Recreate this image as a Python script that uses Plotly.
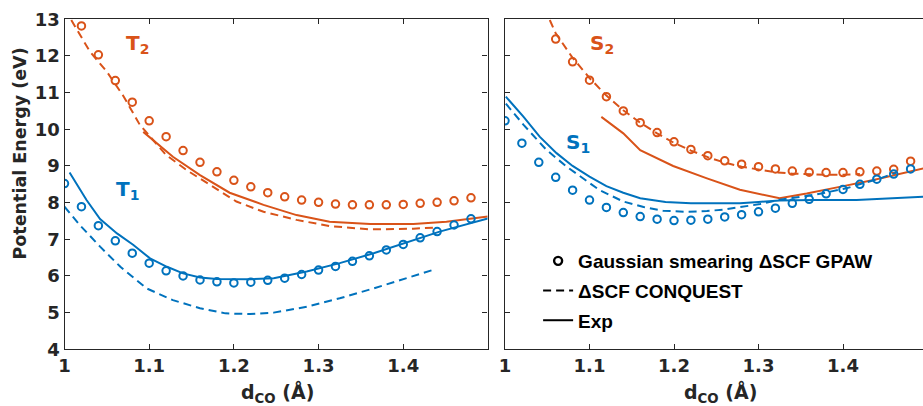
import plotly.graph_objects as go

BLUE = "#0072BD"
ORANGE = "#D95319"
AX = "#262626"
FONT = "DejaVu Sans"
LFONT = "Liberation Sans"

# ---------------- Left panel (triplets) ----------------
x_T1_gpaw = [1.00, 1.02, 1.04, 1.06, 1.08, 1.10, 1.12, 1.14, 1.16, 1.18, 1.20, 1.22, 1.24,
             1.26, 1.28, 1.30, 1.32, 1.34, 1.36, 1.38, 1.40, 1.42, 1.44, 1.46, 1.48]
y_T1_gpaw = [8.52, 7.89, 7.37, 6.96, 6.62, 6.35, 6.14, 6.00, 5.89, 5.84, 5.81, 5.83, 5.88,
             5.94, 6.04, 6.16, 6.26, 6.40, 6.55, 6.71, 6.86, 7.04, 7.21, 7.39, 7.56]

x_T2_gpaw = [1.02, 1.04, 1.06, 1.08, 1.10, 1.12, 1.14, 1.16, 1.18, 1.20, 1.22, 1.24,
             1.26, 1.28, 1.30, 1.32, 1.34, 1.36, 1.38, 1.40, 1.42, 1.44, 1.46, 1.48]
y_T2_gpaw = [12.82, 12.03, 11.33, 10.74, 10.23, 9.80, 9.42, 9.10, 8.84, 8.61, 8.43, 8.27,
             8.16, 8.07, 8.01, 7.96, 7.94, 7.94, 7.94, 7.95, 7.98, 8.01, 8.05, 8.13]

x_T1_exp = [1.006, 1.016, 1.026, 1.042, 1.062, 1.081, 1.101, 1.121, 1.14, 1.16, 1.18, 1.22,
            1.247, 1.286, 1.325, 1.365, 1.404, 1.443, 1.50]
y_T1_exp = [8.82, 8.45, 8.07, 7.55, 7.16, 6.85, 6.48, 6.25, 6.07, 5.96, 5.92, 5.91,
            5.94, 6.12, 6.35, 6.62, 6.91, 7.21, 7.57]

x_T1_cq = [1.00, 1.018, 1.042, 1.066, 1.097, 1.128, 1.16, 1.19, 1.219, 1.247, 1.286,
           1.325, 1.365, 1.404, 1.437]
y_T1_cq = [7.89, 7.39, 6.80, 6.25, 5.66, 5.34, 5.12, 4.98, 4.96, 5.00, 5.16,
           5.39, 5.66, 5.94, 6.18]

x_T2_exp = [1.093, 1.128, 1.16, 1.195, 1.235, 1.274, 1.313, 1.361, 1.412, 1.451, 1.50]
y_T2_exp = [9.93, 9.25, 8.75, 8.27, 7.94, 7.66, 7.48, 7.42, 7.42, 7.48, 7.62]

x_T2_cq = [1.008, 1.03, 1.05, 1.07, 1.089, 1.12, 1.144, 1.176, 1.203, 1.235, 1.274,
           1.313, 1.361, 1.412, 1.437]
y_T2_cq = [12.98, 12.12, 11.57, 10.89, 10.12, 9.30, 8.89, 8.43, 8.03, 7.75, 7.53,
           7.36, 7.27, 7.29, 7.32]

# ---------------- Right panel (singlets) ----------------
x_S1_gpaw = [1.00, 1.02, 1.04, 1.06, 1.08, 1.10, 1.12, 1.14, 1.16, 1.18, 1.20, 1.22, 1.24,
             1.26, 1.28, 1.30, 1.32, 1.34, 1.36, 1.38, 1.40, 1.42, 1.44, 1.46, 1.48]
y_S1_gpaw = [10.23, 9.62, 9.10, 8.69, 8.34, 8.07, 7.87, 7.73, 7.62, 7.55, 7.51, 7.52, 7.55,
             7.61, 7.67, 7.75, 7.85, 7.98, 8.09, 8.24, 8.36, 8.50, 8.64, 8.78, 8.92]

x_S2_gpaw = [1.06, 1.08, 1.10, 1.12, 1.14, 1.16, 1.18, 1.20, 1.22, 1.24, 1.26,
             1.28, 1.30, 1.32, 1.34, 1.36, 1.38, 1.40, 1.42, 1.44, 1.46, 1.48]
y_S2_gpaw = [12.46, 11.84, 11.34, 10.89, 10.50, 10.18, 9.91, 9.66, 9.45, 9.28, 9.14,
             9.05, 8.98, 8.92, 8.86, 8.83, 8.82, 8.82, 8.84, 8.86, 8.91, 9.13]

x_S1_exp = [1.001, 1.022, 1.041, 1.061, 1.08, 1.10, 1.12, 1.14, 1.16, 1.19, 1.22, 1.25,
            1.278, 1.30, 1.325, 1.365, 1.416, 1.495]
y_S1_exp = [10.89, 10.34, 9.80, 9.35, 9.00, 8.71, 8.45, 8.27, 8.12, 8.02, 7.98, 7.97,
            7.98, 8.02, 8.06, 8.07, 8.07, 8.16]

x_S1_cq = [1.001, 1.022, 1.049, 1.073, 1.112, 1.14, 1.164, 1.187, 1.215, 1.239, 1.258,
           1.282, 1.302, 1.325, 1.365, 1.385, 1.404, 1.424, 1.444, 1.463]
y_S1_cq = [10.70, 10.12, 9.44, 8.98, 8.34, 8.03, 7.88, 7.78, 7.75, 7.77, 7.81,
           7.89, 7.96, 8.08, 8.21, 8.30, 8.39, 8.53, 8.66, 8.82]

x_S2_exp = [1.114, 1.14, 1.16, 1.199, 1.239, 1.278, 1.325, 1.357, 1.396, 1.436, 1.495]
y_S2_exp = [10.34, 9.89, 9.43, 9.00, 8.66, 8.35, 8.12, 8.25, 8.43, 8.62, 8.93]

x_S2_cq = [1.053, 1.06, 1.08, 1.10, 1.12, 1.14, 1.16, 1.18, 1.20, 1.22, 1.24, 1.26,
           1.28, 1.30, 1.32, 1.34, 1.36, 1.38, 1.40, 1.42]
y_S2_cq = [12.98, 12.62, 11.95, 11.40, 10.92, 10.52, 10.18, 9.89, 9.63, 9.42, 9.24, 9.09,
           8.98, 8.90, 8.83, 8.79, 8.77, 8.76, 8.76, 8.78]

x_ticks = [1.0, 1.1, 1.2, 1.3, 1.4]
x_ticktext = ["1", "1.1", "1.2", "1.3", "1.4"]
y_ticks = [4, 5, 6, 7, 8, 9, 10, 11, 12, 13]

DASH = "8px,5px"
LW = 2


def circ(x, y, color, xa, ya):
    return go.Scatter(x=x, y=y, xaxis=xa, yaxis=ya, mode="markers", showlegend=False,
                      marker=dict(symbol="circle-open", size=7.5, color=color,
                                  line=dict(width=2, color=color)))


def line(x, y, color, xa, ya, dash="solid"):
    return go.Scatter(x=x, y=y, xaxis=xa, yaxis=ya, mode="lines", showlegend=False,
                      line=dict(color=color, width=LW, dash=dash))


fig = go.Figure()
# left
fig.add_trace(line(x_T2_cq, y_T2_cq, ORANGE, "x", "y", DASH))
fig.add_trace(line(x_T2_exp, y_T2_exp, ORANGE, "x", "y"))
fig.add_trace(circ(x_T2_gpaw, y_T2_gpaw, ORANGE, "x", "y"))
fig.add_trace(line(x_T1_cq, y_T1_cq, BLUE, "x", "y", DASH))
fig.add_trace(line(x_T1_exp, y_T1_exp, BLUE, "x", "y"))
fig.add_trace(circ(x_T1_gpaw, y_T1_gpaw, BLUE, "x", "y"))
# right
fig.add_trace(line(x_S2_cq, y_S2_cq, ORANGE, "x2", "y2", DASH))
fig.add_trace(line(x_S2_exp, y_S2_exp, ORANGE, "x2", "y2"))
fig.add_trace(circ(x_S2_gpaw, y_S2_gpaw, ORANGE, "x2", "y2"))
fig.add_trace(line(x_S1_cq, y_S1_cq, BLUE, "x2", "y2", DASH))
fig.add_trace(line(x_S1_exp, y_S1_exp, BLUE, "x2", "y2"))
fig.add_trace(circ(x_S1_gpaw, y_S1_gpaw, BLUE, "x2", "y2"))

# legend entries (black)
fig.add_trace(go.Scatter(x=[None], y=[None], xaxis="x2", yaxis="y2", mode="markers",
                         name="Gaussian smearing ΔSCF GPAW", legendgroup="a",
                         marker=dict(symbol="circle-open", size=8, color="black",
                                     line=dict(width=2.4, color="black"))))
fig.add_trace(go.Scatter(x=[None], y=[None], xaxis="x2", yaxis="y2", mode="lines",
                         name="ΔSCF CONQUEST", legendgroup="b",
                         line=dict(color="black", width=LW, dash=DASH)))
fig.add_trace(go.Scatter(x=[None], y=[None], xaxis="x2", yaxis="y2", mode="lines",
                         name="Exp", legendgroup="c",
                         line=dict(color="black", width=LW)))

W, H = 923, 406
y_dom = [1 - 349.3 / H, 1 - 19.3 / H]
tickfont = dict(family=FONT, size=18, color=AX, weight="bold")
common_x = dict(tickvals=x_ticks, ticktext=x_ticktext, ticks="inside", ticklen=5,
                tickcolor=AX, showline=True, linecolor=AX, linewidth=1.2,
                showgrid=False, zeroline=False, tickfont=tickfont, automargin=False)
common_y = dict(range=[4, 13], tickvals=y_ticks, ticks="inside", ticklen=5,
                tickcolor=AX, showline=True, linecolor=AX, linewidth=1.2,
                showgrid=False, zeroline=False, tickfont=tickfont, automargin=False)

fig.update_layout(
    width=W, height=H,
    margin=dict(l=0, r=0, t=0, b=0, autoexpand=False),
    paper_bgcolor="white", plot_bgcolor="white",
    xaxis=dict(domain=[64.5 / W, 487.5 / W], range=[1, 1.4995], mirror="ticks",
               anchor="y", **common_x),
    yaxis=dict(domain=y_dom, anchor="x", mirror="ticks", **common_y),
    xaxis2=dict(domain=[505 / W, 1.0], range=[1, 1 + (W - 505) / 845.0], mirror="ticks",
                anchor="y2", **common_x),
    yaxis2=dict(domain=y_dom, anchor="x2", showticklabels=False, **common_y),
    legend=dict(x=0.583, y=0.404, xanchor="left", yanchor="top",
                bgcolor="rgba(0,0,0,0)", tracegroupgap=2,
                font=dict(family=LFONT, size=19, color="black", weight="bold")),
    showlegend=True,
)

title_font = dict(family=FONT, size=19, color=AX, weight="bold")
fig.add_annotation(x=19.5 / W, y=1 - 154 / H, xref="paper", yref="paper",
                   xanchor="center", yanchor="middle",
                   text="Potential Energy (eV)", textangle=-90, showarrow=False,
                   font=dict(family=FONT, size=17.5, color=AX, weight="bold"))
fig.add_annotation(x=277.5 / W, y=0, xref="paper", yref="paper", xanchor="center",
                   yanchor="bottom", yshift=-2, text="d<sub>CO</sub> (Å)", showarrow=False,
                   font=title_font)
fig.add_annotation(x=720.5 / W, y=0, xref="paper", yref="paper", xanchor="center",
                   yanchor="bottom", yshift=-2, text="d<sub>CO</sub> (Å)", showarrow=False,
                   font=title_font)

lab_font = lambda c: dict(family=FONT, size=20, color=c, weight="bold")
fig.add_annotation(x=1.086, y=12.33, xref="x", yref="y", text="T<sub>2</sub>",
                   xanchor="center", yanchor="middle", showarrow=False, font=lab_font(ORANGE))
fig.add_annotation(x=1.074, y=8.34, xref="x", yref="y", text="T<sub>1</sub>",
                   xanchor="center", yanchor="middle", showarrow=False, font=lab_font(BLUE))
fig.add_annotation(x=1.115, y=12.33, xref="x2", yref="y2", text="S<sub>2</sub>",
                   xanchor="center", yanchor="middle", showarrow=False, font=lab_font(ORANGE))
fig.add_annotation(x=1.086, y=9.63, xref="x2", yref="y2", text="S<sub>1</sub>",
                   xanchor="center", yanchor="middle", showarrow=False, font=lab_font(BLUE))

fig.write_html("out.html")
